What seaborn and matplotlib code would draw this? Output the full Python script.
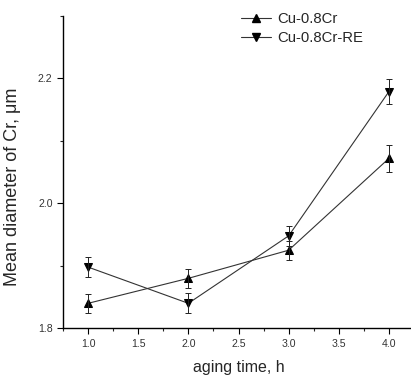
import matplotlib
matplotlib.use("Agg")
import matplotlib.pyplot as plt
import seaborn as sns
import pandas as pd
from matplotlib.ticker import MultipleLocator, FormatStrFormatter
from matplotlib.lines import Line2D

sns.set_style("ticks")
plt.rcParams['font.family'] = ['Liberation Sans', 'DejaVu Sans']

time_h = [1.0, 2.0, 3.0, 4.0]
cr_mean = [1.840, 1.880, 1.925, 2.072]
cr_err = [0.015, 0.015, 0.015, 0.022]
re_mean = [1.898, 1.840, 1.948, 2.179]
re_err = [0.016, 0.016, 0.016, 0.020]
series_names = ["Cu-0.8Cr", "Cu-0.8Cr-RE"]

df = pd.DataFrame({
    "time": time_h * 2,
    "mean": cr_mean + re_mean,
    "err": cr_err + re_err,
    "series": [series_names[0]] * 4 + [series_names[1]] * 4,
})

fig = plt.figure(figsize=(4.11, 3.79), dpi=100)
ax = fig.add_axes([63 / 411, 1 - 328.3 / 379, (414 - 63) / 411, (328.3 - 16) / 379])

sns.lineplot(data=df, x="time", y="mean", hue="series", style="series",
             markers={series_names[0]: "^", series_names[1]: "v"}, dashes=False,
             palette={series_names[0]: "#333333", series_names[1]: "#333333"},
             linewidth=0.8, markersize=6, markeredgecolor="black",
             markerfacecolor="black", ax=ax, legend=False)

for name, means, errs in [(series_names[0], cr_mean, cr_err), (series_names[1], re_mean, re_err)]:
    ax.errorbar(time_h, means, yerr=errs, fmt="none", ecolor="#222222",
                elinewidth=0.7, capsize=2.5, capthick=0.7)

handles = [Line2D([], [], color="#333333", lw=0.8, marker="^", mfc="black", mec="black", ms=6),
           Line2D([], [], color="#333333", lw=0.8, marker="v", mfc="black", mec="black", ms=6)]
leg = ax.legend(handles, series_names, loc="upper left", bbox_to_anchor=(231 / 411, 1 - 2 / 379),
                bbox_transform=fig.transFigure, frameon=False, fontsize=10.7,
                handlelength=2.0, handletextpad=0.4, labelspacing=0.3, borderpad=0.2)

ax.set_xlim(0.75, 4.25)
ax.set_ylim(1.8, 2.3)
ax.set_xticks([1.0, 1.5, 2.0, 2.5, 3.0, 3.5, 4.0])
ax.xaxis.set_minor_locator(MultipleLocator(0.25))
ax.set_yticks([1.8, 2.0, 2.2])
ax.yaxis.set_minor_locator(MultipleLocator(0.1))
ax.tick_params(axis="both", which="major", labelsize=7.6, length=4, width=0.8,
               direction="out", colors="black", labelcolor="#333333")
ax.tick_params(axis="both", which="minor", length=2.5, width=0.8, direction="out")
ax.xaxis.set_major_formatter(FormatStrFormatter("%.1f"))
ax.yaxis.set_major_formatter(FormatStrFormatter("%.1f"))

for s in ["top", "right"]:
    ax.spines[s].set_visible(False)
for s in ["left", "bottom"]:
    ax.spines[s].set_linewidth(1.0)
    ax.spines[s].set_color("black")

ax.set_xlabel("aging time, h", fontsize=11.5, labelpad=8)
ax.set_ylabel("Mean diameter of Cr, μm", fontsize=13)
ax.yaxis.set_label_coords(21 / 411, 1 - 187 / 379, transform=fig.transFigure)

fig.savefig("out.png", dpi=100)
